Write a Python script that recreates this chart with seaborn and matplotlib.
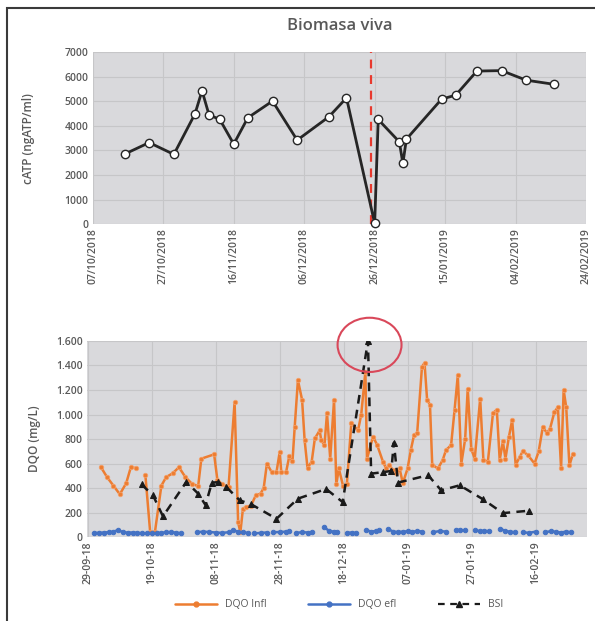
import numpy as np
import pandas as pd
import seaborn as sns
import matplotlib.pyplot as plt
from matplotlib.lines import Line2D
from matplotlib.patches import Ellipse, Rectangle
import matplotlib.dates as mdates

# --- Biomasa viva (cATP) ---
catp_fechas = ["2018-10-16", "2018-10-23", "2018-10-30", "2018-11-05", "2018-11-07",
               "2018-11-09", "2018-11-12", "2018-11-16", "2018-11-20", "2018-11-27",
               "2018-12-04", "2018-12-13", "2018-12-18", "2018-12-26", "2018-12-27",
               "2019-01-02", "2019-01-03", "2019-01-04", "2019-01-14", "2019-01-18",
               "2019-01-24", "2019-01-31", "2019-02-07", "2019-02-15"]
catp_valores = [2850, 3320, 2840, 4490, 5430, 4440, 4270, 3260, 4330, 5010,
                3420, 4370, 5140, 30, 4260, 3350, 2470, 3460, 5090, 5250,
                6230, 6250, 5860, 5690]
fecha_corte = "2018-12-25"

# --- DQO y BSI (dias desde 29-09-18) ---
inicio = pd.Timestamp("2018-09-29")
infl_dias = [4, 6, 8, 10, 12, 13.5, 15, 16, 18, 19.5, 21, 23, 24.5, 26.5, 28.5, 30.5,
             32.5, 34.5, 35.5, 39.5, 40.5, 42, 44, 45.9, 47, 47.7, 48.5, 49.5, 51,
             52.5, 54, 55, 56, 57.5, 59, 60, 60.5, 62, 63, 64, 64.7, 65.7, 67, 67.8,
             68.7, 70, 71, 72.5, 73, 74, 74.8, 75.8, 77, 77.7, 78.5, 79.8, 81, 82.4,
             84.5, 85.5, 86.8, 87.3, 89.2, 90.5, 92.3, 93.3, 94.3, 95.4, 96.5, 97.5,
             98.5, 100, 101, 102, 103, 104.5, 105.3, 106.1, 107, 107.7, 109.5, 111,
             112, 113.6, 114.7, 115.7, 116.8, 118, 118.8, 119.9, 121, 122.7, 123.7,
             125.1, 126.7, 127.9, 128.8, 129.8, 130.6, 131.7, 132.7, 133.8, 135, 136,
             137.6, 139.7, 141, 142.3, 143.5, 144.5, 145.9, 147, 148, 148.8, 149.6,
             150.6, 151.7]
infl_valores = [575, 490, 420, 350, 440, 575, 560, np.nan, 505, 40, 45, 420, 490, 520,
                570, 490, 437, 415, 640, 675, 470, 430, 410, 1100, 120, 40, 230, 250,
                255, 340, 355, 400, 600, 530, 530, 695, 530, 530, 660, 620, 900, 1280,
                1120, 790, 565, 615, 805, 870, 790, 750, 1010, 640, 1120, 430, 560,
                420, 430, 930, 870, 1000, 1350, 640, 820, 750, 615, 560, 590, 545, 520,
                560, 440, 560, 710, 830, 850, 1390, 1420, 1120, 1080, 590, 560, 630,
                710, 750, 1040, 1320, 600, 800, 1210, 720, 640, 1130, 630, 615, 1010,
                1040, 630, 780, 640, 820, 955, 590, 650, 700, 670, 600, 700, 900, 850,
                880, 1020, 1060, 560, 1200, 1060, 585, 680]
efl_dias = [2, 3.5, 5, 6.5, 8, 9.5, 11, 12.5, 14, 15.5, 17, 18.5, 20, 21.5, 23, 24.5,
            26, 27.5, 29, 31.5, 34, 36, 38, 40, 42, 44, 44.5, 45.5, 47, 48.5, 50, 51,
            52, 54, 56, 57, 58, 60, 62, 63, 64, 65, 67, 69, 70, 72, 74, 75.5, 77, 78,
            79.5, 81, 82.5, 84, 85.5, 87, 88.5, 90, 91, 92.5, 94, 95.5, 97, 98.5, 100,
            101.5, 103, 104.5, 106, 108, 110, 112, 113.5, 115, 116.5, 118, 119.5, 121,
            122.5, 124, 125.5, 127, 129, 130.5, 132, 133.5, 135, 136, 138, 140, 141.5,
            143, 145, 146.5, 148, 149.5, 151]
efl_valores = [35, 35, 38, 40, 45, 58, 40, 37, 38, 35, 33, 30, 30, 32, 36, 40, 42, 37,
               33, np.nan, 40, 45, 42, 38, 35, 40, np.nan, 55, 45, 40, 35, np.nan, 30,
               35, 38, np.nan, 40, 42, 45, 48, np.nan, 35, 40, 38, 42, np.nan, 80, 50,
               45, 40, np.nan, 35, 38, 33, np.nan, 60, 45, 50, 55, np.nan, 65, 45, 42,
               45, 48, 44, 50, 46, np.nan, 40, 50, 45, np.nan, 60, 58, 55, np.nan, 55,
               50, 52, 48, np.nan, 70, 50, 45, 40, np.nan, 40, 35, 45, np.nan, 40, 50,
               42, 38, 45, 40]
bsi_dias = [16.8, 20.4, 23.5, 30.8, 34.5, 36.8, 38.8, 40.7, 43.3, 47.5, 51.1, 59,
            65.7, 74.5, 79.7, 87.6, 88.6, 92.3, 94.9, 95.7, 97, 106.4, 110.5, 116.3,
            123.5, 129.8, 138.1]
bsi_valores = [430, 340, 170, 450, 355, 262, 445, 448, 409, 300, 268, 150, 314, 393,
               286, 1600, 518, 530, 540, 770, 445, 505, 382, 423, 310, 196, 216]

sns.set_theme(style="white")
plt.rcParams["font.family"] = ["Open Sans", "DejaVu Sans"]

gris = "#595959"
fondo = "#d9d9dc"
rejilla = "#c6c6c8"
naranja = "#ed7d31"
azul = "#4472c4"


def serie(dias, valores):
    df = pd.DataFrame({"dia": dias, "valor": valores})
    df["seg"] = df["valor"].isna().cumsum()
    df = df.dropna()
    df["fecha"] = inicio + pd.to_timedelta(df["dia"], unit="D")
    return df


fig = plt.figure(figsize=(5.95, 6.21), dpi=100)
ax1 = fig.add_axes([0.156, 0.639, 0.829, 0.277])
ax2 = fig.add_axes([0.146, 0.135, 0.840, 0.316])

# ---- grafico superior ----
df_catp = pd.DataFrame({"fecha": pd.to_datetime(catp_fechas), "catp": catp_valores})
ax1.set_facecolor(fondo)
sns.lineplot(data=df_catp, x="fecha", y="catp", ax=ax1, color="#262626", lw=2,
             marker="o", markersize=6, markerfacecolor="white",
             markeredgecolor="#262626", markeredgewidth=1, clip_on=False, zorder=3)
ax1.axvline(pd.Timestamp(fecha_corte), color="#e8392e", ls=(0, (4, 3)), lw=1.6, zorder=2)
ticks1 = pd.date_range("2018-10-07", "2019-02-24", freq="20D")
ax1.set_xlim(ticks1[0], ticks1[-1])
ax1.set_ylim(0, 7000)
ax1.set_xticks(ticks1)
ax1.set_xticklabels([t.strftime("%d/%m/%Y") for t in ticks1], rotation=90)
ax1.set_yticks(range(0, 7001, 1000))
ax1.grid(True, color=rejilla, lw=0.8)
ax1.set_axisbelow(True)
ax1.set_xlabel("")
ax1.set_ylabel("cATP (ngATP/ml)", color=gris, fontsize=8.5, fontweight="semibold")
ax1.yaxis.set_label_coords(-0.118, 0.5)
ax1.set_title("Biomasa viva", color=gris, fontsize=12, fontweight="semibold", pad=16)

# ---- grafico inferior ----
ax2.set_facecolor(fondo)
df_infl = serie(infl_dias, infl_valores)
df_efl = serie(efl_dias, efl_valores)
df_bsi = serie(bsi_dias, bsi_valores)
sns.lineplot(data=df_infl, x="fecha", y="valor", units="seg", estimator=None, ax=ax2,
             color=naranja, lw=1.8, marker="o", markersize=3.2,
             markeredgecolor="#f3a06a", markeredgewidth=0.6, zorder=3)
sns.lineplot(data=df_efl, x="fecha", y="valor", units="seg", estimator=None, ax=ax2,
             color=azul, lw=1.8, marker="o", markersize=3.2,
             markeredgecolor=azul, zorder=3)
sns.lineplot(data=df_bsi, x="fecha", y="valor", ax=ax2, color="#1a1a1a", lw=1.8,
             ls=(0, (3.5, 2.5)), marker="^", markersize=5, markeredgecolor="#1a1a1a",
             zorder=4)
ticks2 = pd.date_range("2018-09-29", periods=8, freq="20D")
ax2.set_xlim(inicio - pd.Timedelta(days=0.3), inicio + pd.Timedelta(days=156))
ax2.set_ylim(0, 1600)
ax2.set_xticks(ticks2)
ax2.set_xticklabels([t.strftime("%d-%m-%y") for t in ticks2], rotation=90)
ax2.set_yticks(range(0, 1601, 200))
ax2.set_yticklabels([f"{v:,}".replace(",", ".") for v in range(0, 1601, 200)])
ax2.grid(True, color=rejilla, lw=0.8)
ax2.set_axisbelow(True)
ax2.set_xlabel("")
ax2.set_ylabel("DQO (mg/L)", color=gris, fontsize=8.5, fontweight="semibold")
ax2.yaxis.set_label_coords(-0.092, 0.5)
ax2.legend_ = None

centro = mdates.date2num(inicio + pd.Timedelta(days=88.1))
ax2.add_patch(Ellipse((centro, 1568), 20, 442, fill=False, ec="#d9485a", lw=1.5,
                      clip_on=False, zorder=5))

for ax in (ax1, ax2):
    for s in ax.spines.values():
        s.set_visible(False)
    ax.tick_params(length=0, labelsize=7.5, labelcolor=gris, pad=3)
    for lab in ax.get_xticklabels() + ax.get_yticklabels():
        lab.set_fontweight("semibold")

handles = [
    Line2D([], [], color=naranja, lw=1.8, marker="o", markersize=3.5),
    Line2D([], [], color=azul, lw=1.8, marker="o", markersize=3.5),
    Line2D([], [], color="#1a1a1a", lw=1.6, ls=(0, (3, 2.5)), marker="^", markersize=4.5),
]
fig.legend(handles, ["DQO Infl", "DQO efl", "BSI"], loc="center",
           bbox_to_anchor=(0.57, 0.026), ncol=3, frameon=False, fontsize=7.5,
           handlelength=4, columnspacing=4, labelcolor=gris)

fig.patches.append(Rectangle((7 / 595, -0.05), 1.0, 1 - 8 / 621 + 0.05,
                             transform=fig.transFigure, fill=False, ec="#3a3a3a",
                             lw=1.5))

fig.savefig("out.png", dpi=100, facecolor="white")
